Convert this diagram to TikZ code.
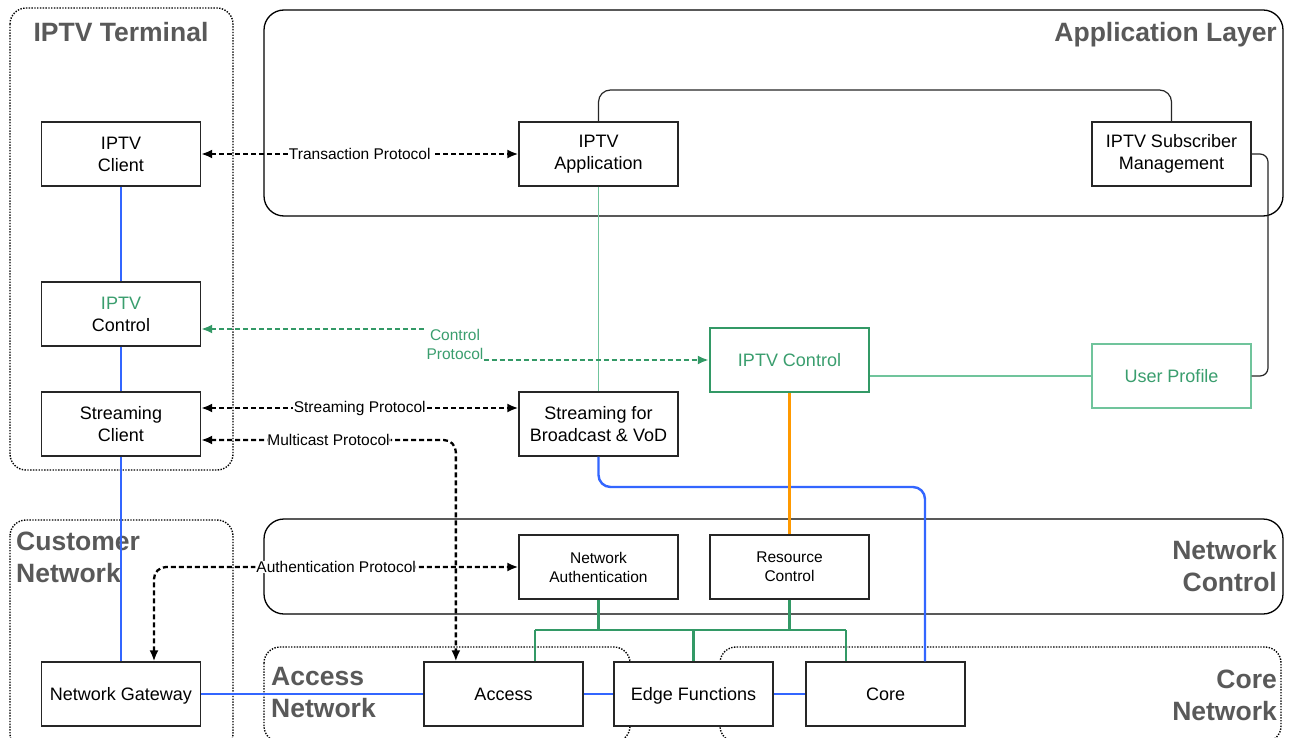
\documentclass[tikz,border=0pt]{standalone}
\usepackage{fontspec}
\setmainfont{Liberation Sans}
\usetikzlibrary{arrows.meta}
\definecolor{titlegray}{HTML}{595959}
\definecolor{ctlgreen}{HTML}{3A9E6E}
\definecolor{linkgreen}{HTML}{339966}
\definecolor{thingreen}{HTML}{70C49C}
\definecolor{netblue}{HTML}{3366FF}
\definecolor{resorange}{HTML}{FF9900}
\definecolor{boxline}{HTML}{262626}

\begin{document}
\begin{tikzpicture}[x=1pt,y=-1pt,
  >={Latex[length=11pt,width=9pt]},
  box/.style={draw=boxline, line width=1.3pt, fill=white, minimum width=159pt,
    minimum height=64pt, inner sep=0pt, align=center,
    font=\fontsize{18}{22}\selectfont},
  oneline/.style={text height=16.5pt, text depth=3.6pt},
  smallbox/.style={box, font=\fontsize{15.5}{19}\selectfont},
  dottedgroup/.style={draw=black, line width=1.4pt, dash pattern=on 1.4pt off 1.4pt,
    rounded corners=16pt},
  solidgroup/.style={draw=black, line width=1.3pt, rounded corners=20pt},
  grouptitle/.style={font=\fontsize{26.5}{32}\selectfont\bfseries, text=titlegray,
    inner sep=0pt},
  bluelink/.style={draw=netblue, line width=2.4pt},
  thinlink/.style={draw=thingreen, line width=1.2pt},
  treelink/.style={draw=linkgreen, line width=2.4pt},
  orangelink/.style={draw=resorange, line width=2.4pt},
  plainlink/.style={draw=boxline, line width=1.2pt},
  protobase/.style={line width=2.3pt, dash pattern=on 5pt off 3pt},
  protolink/.style={protobase, draw=black, <->},
  ctlproto/.style={protobase, draw=linkgreen},
  plabel/.style={fill=white, inner sep=1pt, font=\fontsize{15.5}{19}\selectfont}
]
\useasboundingbox (0,0) rectangle (1292,738);
\fill[white] (0,0) rectangle (1292,738);
\clip (0,0) rectangle (1292,738);

% layer and domain frames
\draw[dottedgroup] (10,8) rectangle (233,470);
\draw[solidgroup] (264,10) rectangle (1283,216);
\draw[dottedgroup] (10,520) rectangle (233,750);
\draw[solidgroup] (264,519) rectangle (1283,614);
\draw[dottedgroup] (264,647) rectangle (630,742);
\draw[dottedgroup] (720,647) rectangle (1281,742);

% frame titles
\node[grouptitle, anchor=base] at (121,42) {IPTV Terminal};
\node[grouptitle, anchor=base east] at (1277,42) {Application Layer};
\node[grouptitle, anchor=west, align=left] at (16,557) {Customer\\Network};
\node[grouptitle, anchor=east, align=right] at (1277,566) {Network\\Control};
\node[grouptitle, anchor=west, align=left] at (271,693) {Access\\Network};
\node[grouptitle, anchor=east, align=right] at (1277,695) {Core\\Network};

% functional blocks
\node[box] (tclient) at (121,154) {IPTV\\Client};
\node[box] (tctrl) at (121,314) {\textcolor{ctlgreen}{IPTV}\\Control};
\node[box] (sclient) at (121,424) {Streaming\\Client};
\node[box, oneline] (ngw) at (121,694) {Network Gateway};
\node[box] (iapp) at (598.5,154) {IPTV\\Application};
\node[box] (subm) at (1171.5,154) {IPTV Subscriber\\Management};
\node[box, oneline, draw=linkgreen, line width=2.4pt, text=ctlgreen] (ctrl) at (789.5,360) {IPTV Control};
\node[box, oneline, draw=thingreen, line width=1.2pt, text=ctlgreen] (uprof) at (1171.5,376) {User Profile};
\node[box] (svod) at (598.5,424) {Streaming for\\Broadcast \& VoD};
\node[smallbox] (nauth) at (598.5,567) {Network\\Authentication};
\node[smallbox] (rctrl) at (789.5,567) {Resource\\Control};
\node[box, oneline] (access) at (503.5,694) {Access};
\node[box, oneline] (edge) at (693.5,694) {Edge Functions};
\node[box, oneline] (core) at (885.5,694) {Core};

% transport path
\draw[bluelink] (tclient) -- (tctrl);
\draw[bluelink] (tctrl) -- (sclient);
\draw[bluelink] (sclient) -- (ngw);
\draw[bluelink] (ngw) -- (access);
\draw[bluelink] (access) -- (edge);
\draw[bluelink] (edge) -- (core);
\coordinate (vodturn) at (925,487);
\draw[bluelink, rounded corners=12pt] (svod.south) |- (vodturn) -- (vodturn |- core.north);

% application-side links
\draw[thinlink] (iapp) -- (svod);
\draw[thinlink] (uprof.west) -- (uprof.west -| ctrl.east);
\coordinate (appturn) at (1171.5,90);
\draw[plainlink, rounded corners=12pt] (iapp.north) |- (appturn) -- (subm.north);
\coordinate (subturn) at (1268,260);
\draw[plainlink, rounded corners=8pt] (subm.east) -| (subturn) |- (uprof.east);

% control to resources
\draw[orangelink] (ctrl) -- (rctrl);

% network control bus
\coordinate (busL) at (535,630);
\coordinate (busR) at (846,630);
\draw[treelink] (busL) -- (busR);
\draw[treelink] (nauth.south) -- (nauth.south |- busL);
\draw[treelink] (rctrl.south) -- (rctrl.south |- busL);
\draw[treelink] (busL) -- (busL |- access.north);
\draw[treelink] (edge.north |- busL) -- (edge.north);
\draw[treelink] (busR) -- (busR |- core.north);

% protocols
\draw[protolink] (tclient.east) -- node[plabel]{Transaction Protocol} (iapp.west);
\coordinate (sp) at ([yshift=16pt]sclient.east);
\draw[protolink] (sp) -- node[plabel]{Streaming Protocol} (sp -| svod.west);
\coordinate (mc) at ([yshift=-16pt]sclient.east);
\coordinate (mcdrop) at ([xshift=32.5pt]access.north west);
\draw[protolink, rounded corners=12pt] (mc) -| node[plabel, pos=0.25]{Multicast Protocol} (mcdrop);
\coordinate (agrise) at ([xshift=33pt]ngw.north);
\draw[protolink, rounded corners=12pt] (agrise) |- node[plabel, pos=0.75]{Authentication Protocol} (nauth.west);

\node[plabel, fill=none, text=ctlgreen, align=center, inner sep=0pt] (cpl) at (455,344) {Control\\Protocol};
\coordinate (cp) at ([yshift=-15pt]tctrl.east);
\draw[ctlproto, <-] (cp) -- (cp -| cpl.west);
\draw[ctlproto, ->] (cpl.east |- ctrl.west) -- (ctrl.west);
\end{tikzpicture}
\end{document}
